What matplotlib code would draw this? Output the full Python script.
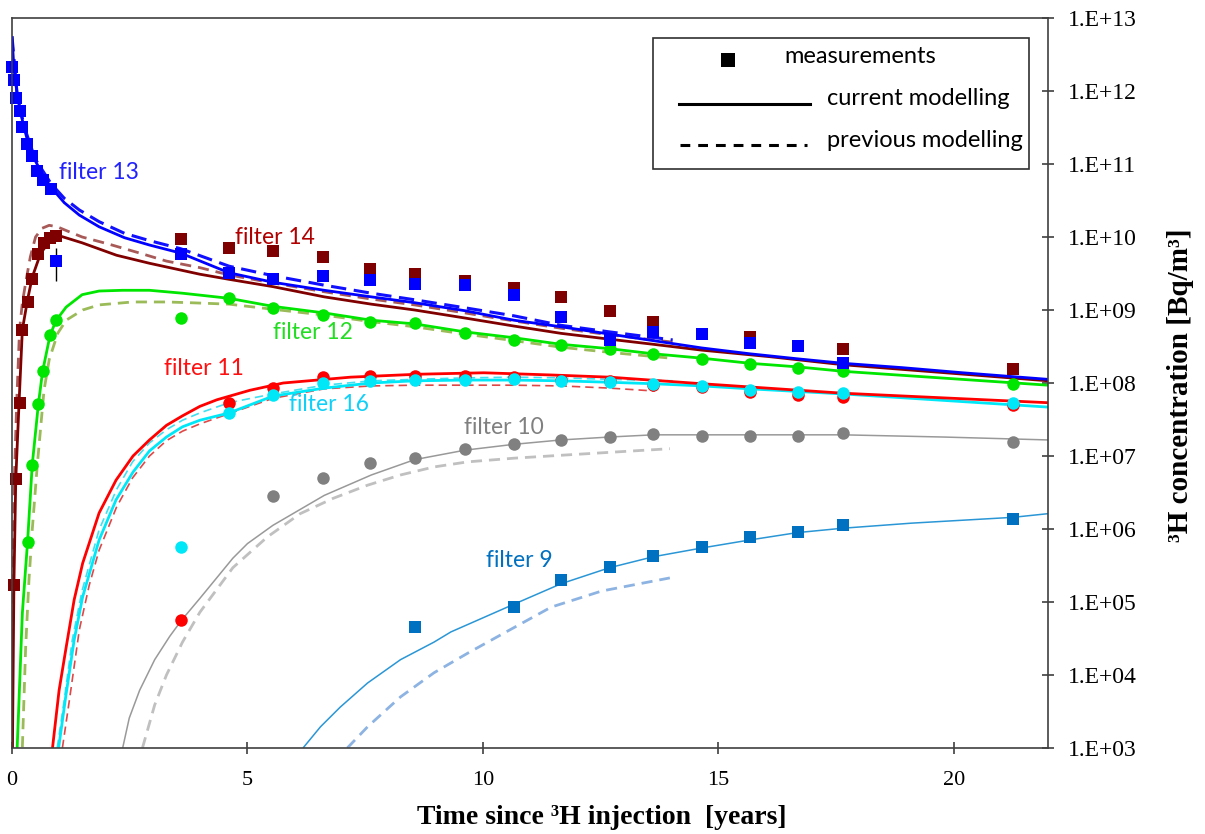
import matplotlib
matplotlib.use('Agg')
import numpy as np
import matplotlib.pyplot as plt
from matplotlib.ticker import FixedLocator, FuncFormatter, NullLocator
from matplotlib.patches import Rectangle
from matplotlib.lines import Line2D

# sampling times of the yearly measurements [years]
t_meas = [3.58, 4.61, 5.54, 6.61, 7.61, 8.55, 9.62, 10.66, 11.66, 12.69,
          13.62, 14.65, 15.67, 16.70, 17.65, 21.26]

# ---- measurements [Bq/m3]
f13_t = [0.0, 0.04, 0.08, 0.17, 0.22, 0.31, 0.43, 0.54, 0.65, 0.83] + t_meas[:15]
f13_c = [2.1e12, 1.4e12, 7.9e11, 5.4e11, 3.2e11, 1.9e11, 1.3e11, 8.0e10, 6.0e10, 4.6e10,
         5.85e9, 3.2e9, 2.66e9, 2.92e9, 2.58e9, 2.27e9, 2.2e9, 1.6e9, 8.0e8, 3.9e8,
         5.0e8, 4.7e8, 3.5e8, 3.2e8, 1.9e8]
f13_err_t = [0.93]
f13_err_c = [4.7e9]
f13_err_lo = [2.5e9]
f13_err_hi = [7.0e9]

f14_t = [0.04, 0.08, 0.17, 0.22, 0.33, 0.43, 0.56, 0.67, 0.80, 0.93,
         3.58, 4.61, 5.54, 6.61, 7.61, 8.55, 9.62, 10.66, 11.66, 12.69, 13.62,
         15.67, 17.65, 21.26]
f14_c = [1.7e5, 4.8e6, 5.4e7, 5.4e8, 1.27e9, 2.66e9, 5.8e9, 8.2e9, 9.8e9, 1.04e10,
         9.3e9, 7.1e9, 6.4e9, 5.3e9, 3.65e9, 3.1e9, 2.5e9, 1.98e9, 1.52e9, 9.8e8, 6.9e8,
         4.3e8, 2.95e8, 1.54e8]

f12_t = [0.33, 0.43, 0.56, 0.65, 0.81, 0.93] + t_meas
f12_c = [6.6e5, 7.5e6, 5.2e7, 1.46e8, 4.5e8, 7.3e8,
         7.7e8, 1.46e9, 1.06e9, 8.5e8, 6.9e8, 6.6e8, 4.9e8, 3.9e8, 3.3e8, 2.9e8,
         2.5e8, 2.1e8, 1.8e8, 1.59e8, 1.45e8, 9.7e7]

f11_t = t_meas
f11_c = [5.7e4, 5.4e7, 8.5e7, 1.2e8, 1.25e8, 1.25e8, 1.25e8, 1.2e8, 1.1e8, 1.05e8,
         9.5e7, 8.7e7, 7.5e7, 6.9e7, 6.5e7, 5.0e7]

f16_t = t_meas
f16_c = [5.7e5, 3.9e7, 6.9e7, 1.0e8, 1.06e8, 1.1e8, 1.1e8, 1.12e8, 1.06e8, 1.04e8,
         9.7e7, 9.1e7, 7.9e7, 7.5e7, 7.2e7, 5.3e7]

f10_t = t_meas[2:]
f10_c = [2.8e6, 5.0e6, 7.9e6, 9.5e6, 1.24e7, 1.46e7, 1.66e7, 1.82e7, 2.0e7, 1.9e7,
         1.9e7, 1.9e7, 2.07e7, 1.57e7]

f9_t = [8.55, 10.66, 11.66, 12.69, 13.62, 14.65, 15.67, 16.70, 17.65, 21.26]
f9_c = [4.5e4, 8.6e4, 1.98e5, 3.05e5, 4.3e5, 5.6e5, 7.7e5, 9.0e5, 1.12e6, 1.36e6]

# ---- model curves as log10 of concentration
f13_cur_t = [0.0, 0.04, 0.11, 0.17, 0.26, 0.36, 0.49, 0.66, 0.83, 1.11, 1.43, 1.85, 2.39,
             2.92, 3.58, 4.61, 5.54, 6.63, 7.63, 8.55, 9.62, 10.66, 11.66, 12.69, 13.62,
             14.65, 15.67, 16.70, 17.65, 18.91, 20.19, 22.0]
f13_cur_l = [12.75, 12.32, 11.95, 11.74, 11.49, 11.25, 11.05, 10.84, 10.68, 10.47, 10.30,
             10.14, 9.99, 9.89, 9.78, 9.51, 9.38, 9.27, 9.18, 9.10, 8.99, 8.86, 8.77, 8.67,
             8.58, 8.48, 8.40, 8.33, 8.27, 8.21, 8.14, 8.05]
f13_prev_t = [0.0, 0.11, 0.26, 0.49, 0.83, 1.11, 1.43, 1.85, 2.39, 2.92, 3.58, 4.61, 5.54,
              6.63, 7.63, 8.55, 9.62, 10.66, 11.66, 12.69, 14.03]
f13_prev_l = [12.75, 11.95, 11.51, 11.07, 10.73, 10.53, 10.37, 10.21, 10.05, 9.95, 9.84,
              9.60, 9.47, 9.34, 9.23, 9.14, 9.03, 8.92, 8.79, 8.70, 8.59]

f14_cur_t = [0.01, 0.04, 0.08, 0.15, 0.22, 0.33, 0.43, 0.61, 0.79, 1.04, 1.49, 2.22, 2.92,
             3.99, 4.61, 5.54, 6.63, 7.63, 8.55, 9.62, 10.66, 11.66, 12.69, 13.62, 14.65,
             16.1, 17.65, 22.0]
f14_cur_l = [3.0, 5.22, 6.68, 7.73, 8.73, 9.14, 9.45, 9.78, 9.93, 10.01, 9.92, 9.75, 9.64,
             9.49, 9.42, 9.32, 9.18, 9.08, 9.00, 8.89, 8.78, 8.68, 8.60, 8.53, 8.45,
             8.36, 8.25, 8.03]
f14_prev_t = [0.0, 0.02, 0.05, 0.10, 0.16, 0.22, 0.30, 0.39, 0.50, 0.64, 0.79, 0.96, 1.22,
              1.49, 2.07, 2.71, 3.28, 3.99, 4.61, 5.54, 6.63, 7.63, 8.55, 9.62, 10.66,
              11.66, 12.69, 14.03]
f14_prev_l = [3.0, 5.22, 6.68, 7.73, 8.73, 9.10, 9.41, 9.73, 10.0, 10.12, 10.16, 10.14,
              10.07, 10.0, 9.90, 9.78, 9.67, 9.58, 9.48, 9.37, 9.25, 9.15, 9.07, 8.96,
              8.85, 8.75, 8.66, 8.56]

f12_cur_t = [0.11, 0.22, 0.33, 0.43, 0.56, 0.65, 0.81, 0.94, 1.15, 1.49, 1.85, 2.35, 2.92,
             3.62, 4.61, 5.54, 6.63, 7.63, 8.55, 9.62, 10.66, 11.66, 12.69, 13.62, 14.65,
             15.67, 16.70, 17.65, 22.0]
f12_cur_l = [3.0, 4.85, 5.82, 6.88, 7.71, 8.16, 8.66, 8.86, 9.04, 9.21, 9.26, 9.27, 9.27,
             9.23, 9.16, 9.05, 8.96, 8.86, 8.81, 8.70, 8.62, 8.53, 8.47, 8.40, 8.34,
             8.27, 8.22, 8.16, 7.97]
f12_prev_t = [0.22, 0.29, 0.36, 0.43, 0.54, 0.68, 0.79, 0.97, 1.15, 1.50, 1.85, 2.56, 3.28,
              3.77, 4.61, 5.54, 6.63, 7.63, 8.55, 9.62, 10.66, 11.66, 12.69, 13.99]
f12_prev_l = [3.01, 4.38, 5.30, 5.99, 6.90, 7.90, 8.32, 8.68, 8.86, 9.00, 9.07, 9.11, 9.11,
              9.10, 9.08, 9.01, 8.93, 8.84, 8.77, 8.67, 8.58, 8.49, 8.42, 8.34]

f11_cur_t = [0.86, 1.0, 1.15, 1.32, 1.50, 1.85, 2.21, 2.57, 2.92, 3.28, 3.62, 3.99, 4.35,
             5.05, 5.76, 7.19, 8.61, 10.02, 11.45, 12.69, 14.65, 17.65, 22.0]
f11_cur_l = [3.0, 3.79, 4.38, 5.03, 5.53, 6.22, 6.67, 7.00, 7.22, 7.42, 7.55, 7.68, 7.77,
             7.90, 8.00, 8.08, 8.12, 8.14, 8.11, 8.08, 7.99, 7.86, 7.73]
f11_prev_t = [1.07, 1.22, 1.43, 1.64, 1.85, 2.22, 2.56, 2.92, 3.28, 3.62, 3.99, 4.61, 5.54,
              6.63, 7.63, 8.55, 9.62, 10.66, 11.66, 12.69, 13.65]
f11_prev_l = [3.0, 3.66, 4.62, 5.23, 5.71, 6.30, 6.70, 7.00, 7.21, 7.34, 7.44, 7.58, 7.79,
              7.92, 7.96, 7.97, 7.97, 7.97, 7.96, 7.93, 7.89]

f16_cur_t = [0.99, 1.14, 1.32, 1.50, 1.85, 2.21, 2.57, 2.92, 3.28, 3.62, 3.99, 4.61, 5.54,
             6.63, 7.63, 8.55, 9.62, 10.66, 11.66, 12.69, 13.62, 14.65, 15.67, 17.65, 22.0]
f16_cur_l = [3.0, 3.70, 4.48, 5.07, 5.85, 6.40, 6.78, 7.07, 7.26, 7.40, 7.49, 7.59, 7.82,
             7.93, 8.00, 8.03, 8.04, 8.04, 8.03, 8.01, 7.99, 7.96, 7.92, 7.85, 7.67]
f16_prev_t = [0.96, 1.11, 1.28, 1.49, 1.85, 2.22, 2.56, 2.92, 3.28, 3.62, 3.99, 4.61, 5.54,
              6.63, 7.63, 8.55, 9.62, 10.66, 11.66, 12.69, 14.03]
f16_prev_l = [3.0, 3.66, 4.48, 5.16, 5.99, 6.54, 6.92, 7.18, 7.36, 7.49, 7.59, 7.73, 7.85,
              7.97, 8.03, 8.05, 8.07, 8.08, 8.07, 8.05, 8.03]

f10_cur_t = [2.35, 2.49, 2.71, 3.03, 3.35, 3.60, 3.99, 4.69, 5.0, 5.54, 6.63, 7.63, 8.55,
             9.62, 10.66, 11.66, 12.69, 13.62, 14.65, 15.67, 16.70, 17.65, 19.77, 22.0]
f10_cur_l = [3.0, 3.41, 3.79, 4.21, 4.53, 4.75, 5.05, 5.60, 5.80, 6.05, 6.46, 6.74, 6.95,
             7.08, 7.16, 7.22, 7.26, 7.29, 7.29, 7.29, 7.29, 7.29, 7.26, 7.22]
f10_prev_t = [2.77, 3.03, 3.28, 3.62, 3.99, 4.69, 5.42, 6.12, 6.82, 7.55, 8.25, 8.96, 9.68,
              10.66, 11.66, 12.69, 13.97]
f10_prev_l = [3.0, 3.59, 4.00, 4.45, 4.86, 5.47, 5.89, 6.21, 6.42, 6.60, 6.74, 6.85, 6.92,
              6.97, 7.01, 7.05, 7.10]

f9_cur_t = [6.18, 6.55, 6.97, 7.55, 8.25, 8.96, 9.32, 10.66, 11.66, 12.69, 13.62, 14.65,
            15.67, 16.67, 17.63, 19.10, 21.26, 22.0]
f9_cur_l = [3.0, 3.29, 3.56, 3.89, 4.21, 4.45, 4.59, 4.97, 5.25, 5.47, 5.62, 5.74, 5.85,
            5.95, 6.01, 6.08, 6.16, 6.21]
f9_prev_t = [7.12, 7.55, 8.25, 8.96, 9.68, 10.38, 11.45, 12.52, 13.97]
f9_prev_l = [3.0, 3.29, 3.70, 4.03, 4.30, 4.55, 4.93, 5.15, 5.33]

# label text, colour, position (years, log10 conc)
labels = ['filter 13', 'filter 14', 'filter 12', 'filter 11', 'filter 16', 'filter 10', 'filter 9']
label_col = ['#2222FF', '#B00000', '#22DD22', '#FF1010', '#10D0F8', '#808080', '#0070C0']
label_x = [1.85, 5.59, 6.40, 4.07, 6.74, 10.45, 10.77]
label_l = [10.89, 10.0, 8.685, 8.205, 7.712, 7.384, 5.562]


def curve(ax, t, l, color, lw, dashed=False, dash=(4, 2.5)):
    line, = ax.plot(t, 10 ** np.array(l), color=color, lw=lw, solid_capstyle='butt')
    if dashed:
        line.set_dashes(dash)
    return line


fig = plt.figure(figsize=(12.05, 8.34), dpi=100)
ax = fig.add_axes([12 / 1205, 86 / 834, 1036 / 1205, 730 / 834])
ax.set_yscale('log')

# previous modelling (dashed)
curve(ax, f9_prev_t, f9_prev_l, '#8DB3E2', 2.0, True)
curve(ax, f10_prev_t, f10_prev_l, '#C0C0C0', 2.0, True)
curve(ax, f16_prev_t, f16_prev_l, '#40E0F0', 1.2, True, (5, 3))
curve(ax, f11_prev_t, f11_prev_l, '#E04848', 1.2, True, (5, 3))
curve(ax, f12_prev_t, f12_prev_l, '#9BBB59', 2.0, True)
curve(ax, f14_prev_t, f14_prev_l, '#A85A58', 2.0, True)
curve(ax, f13_prev_t, f13_prev_l, '#1010FF', 2.2, True, (5, 2.5))

# current modelling (solid)
curve(ax, f9_cur_t, f9_cur_l, '#2A96D6', 1.1)
curve(ax, f10_cur_t, f10_cur_l, '#999999', 1.1)
curve(ax, f16_cur_t, f16_cur_l, '#00E8F8', 2.0)
curve(ax, f11_cur_t, f11_cur_l, '#FF0000', 2.0)
curve(ax, f12_cur_t, f12_cur_l, '#00E600', 2.0)
curve(ax, f14_cur_t, f14_cur_l, '#800000', 2.0)
curve(ax, f13_cur_t, f13_cur_l, '#0000FF', 2.0)

# measurements
ms = 9
ax.plot(f9_t, f9_c, 's', color='#0070C0', ms=ms, mew=0)
ax.plot(f10_t, f10_c, 'o', color='#808080', ms=ms, mew=0)
ax.plot(f11_t, f11_c, 'o', color='#FF0000', ms=ms, mew=0)
ax.plot(f16_t, f16_c, 'o', color='#00E8F8', ms=ms, mew=0)
ax.plot(f12_t, f12_c, 'o', color='#00E600', ms=ms, mew=0)
ax.plot(f14_t, f14_c, 's', color='#7F0000', ms=ms, mew=0, clip_on=False)
ax.plot(f13_t, f13_c, 's', color='#0000FF', ms=ms, mew=0, clip_on=False)
ax.errorbar(f13_err_t, f13_err_c,
            yerr=[np.array(f13_err_c) - np.array(f13_err_lo),
                  np.array(f13_err_hi) - np.array(f13_err_c)],
            fmt='s', color='#0000FF', ms=ms, mew=0, ecolor='black', elinewidth=1.0,
            capsize=7, capthick=1.0)

for name, col, x, l in zip(labels, label_col, label_x, label_l):
    ax.text(x, 10 ** l, name, color=col, fontsize=16.5, family='Lato',
            ha='center', va='center')

ax.set_xlim(0, 22)
ax.set_ylim(1e3, 1e13)

# axes styling
for sp in ax.spines.values():
    sp.set_color('#404040')
    sp.set_linewidth(1.2)
ax.yaxis.tick_right()
ax.yaxis.set_major_locator(FixedLocator([10.0 ** k for k in range(3, 14)]))
ax.yaxis.set_minor_locator(NullLocator())
ax.yaxis.set_major_formatter(FuncFormatter(lambda v, p: '1.E+%02d' % round(np.log10(v))))
ax.set_xticks([0, 5, 10, 15, 20])
ax.tick_params(axis='both', direction='inout', length=9, width=1.2, color='#404040',
               labelcolor='black')
ax.tick_params(axis='y', pad=10, labelsize=17)
ax.tick_params(axis='x', pad=12, labelsize=16)
for lab in ax.get_xticklabels() + ax.get_yticklabels():
    lab.set_family('Liberation Serif')

fig.text(602 / 1205, 1 - 818 / 834, 'Time since \u00b3H injection  [years]',
         family='Liberation Serif', fontsize=20, fontweight='bold',
         ha='center', va='center')
fig.text(1180 / 1205, 1 - 385 / 834, '\u00b3H concentration [Bq/m\u00b3]',
         family='Liberation Serif', fontsize=21, fontweight='bold', rotation=90,
         ha='center', va='center')

# legend box drawn by hand
tr = ax.transAxes
ax.add_patch(Rectangle((0.619, 0.793), 0.363, 0.180, transform=tr, fill=False,
                       edgecolor='#303030', lw=1.2, zorder=5))
ax.add_line(Line2D([0.691], [0.942], transform=tr, marker='s', color='black',
                   ms=10.5, mew=0, zorder=6))
ax.add_line(Line2D([0.644, 0.770], [0.882, 0.882], transform=tr, color='black',
                   lw=2.2, zorder=6))
dl = Line2D([0.645, 0.767], [0.826, 0.826], transform=tr, color='black', lw=2.2, zorder=6)
dl.set_dashes((3.2, 2.6))
ax.add_line(dl)
leg_font = dict(family='Lato', fontsize=17, va='center', ha='left', transform=tr, zorder=6)
ax.text(0.746, 0.947, 'measurements', **leg_font)
ax.text(0.787, 0.890, 'current modelling', **leg_font)
ax.text(0.787, 0.832, 'previous modelling', **leg_font)

fig.savefig('out.png', dpi=100)
